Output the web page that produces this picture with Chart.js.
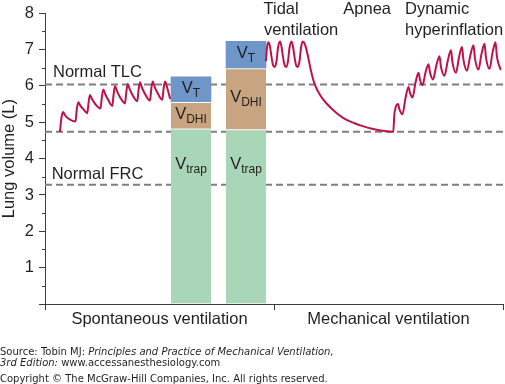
<!DOCTYPE html>
<html lang="en">
<head>
<meta charset="UTF-8">
<title>Lung volume during spontaneous and mechanical ventilation</title>
<script src="https://cdn.jsdelivr.net/npm/chart.js"></script>
<style>
    html, body {
        margin: 0;
        padding: 0;
        background: #fff;
    }
    .wrap {
        width: 505px;
        height: 384px;
        position: relative;
    }
</style>
</head>
<body>
<div class="wrap"><canvas id="lung"></canvas></div>

<script>
// time runs left to right in arbitrary units (0..458), volume in litres
const yTicks = [0, 1, 2, 3, 4, 5, 6, 7, 8];
const refLevels = [6.04, 4.74, 3.28];       // normal TLC, end-expiratory, normal FRC
const barTimes = [146, 201];
const vTrap = [4.82, 4.80];
const vDHI = [0.73, 1.68];
const vTidal = [0.70, 0.75];
const phaseTicks = [0, 229, 458];

// spontaneous breathing (left trace)
const spontTrace = [
    [15, 4.75], [16.3, 5.10], [18, 5.28], [20, 5.20], [23, 5.11],
    [30.5, 5.02], [31.8, 5.36], [33.3, 5.55], [35.3, 5.46], [38.3, 5.36],
    [42.3, 5.25], [43.6, 5.55], [45, 5.75], [47, 5.64], [50, 5.51],
    [55.5, 5.38], [56.8, 5.68], [58.3, 5.90], [60.3, 5.77], [63.3, 5.61],
    [67.3, 5.45], [68.6, 5.76], [70, 6.00], [72, 5.86], [75, 5.69],
    [80, 5.52], [81.3, 5.83], [82.7, 6.05], [84.7, 5.91], [87.7, 5.74],
    [92.3, 5.58], [93.6, 5.90], [95, 6.10], [97, 5.95], [100, 5.78],
    [105, 5.60], [106.3, 5.92], [107.7, 6.12], [109.7, 5.97], [112.7, 5.80],
    [117.3, 5.62], [118.6, 5.93], [120, 6.12], [122, 5.97], [125, 5.66]
];

// mechanical ventilation: tidal breaths, apnea, then dynamic hyperinflation
const mechTrace = [
    [221, 6.70], [222, 7.05], [223.5, 7.20], [225, 7.08], [226.5, 6.80], [228, 6.58], [229.5, 6.52],
    [231.5, 6.68], [233, 7.05], [235, 7.22], [236.5, 7.08], [238, 6.80], [239.5, 6.58], [241, 6.52],
    [243, 6.68], [244.5, 7.05], [246.5, 7.22], [248, 7.08], [249.5, 6.80], [251, 6.58], [252.5, 6.52],
    [254.5, 6.68], [256, 7.05], [257.8, 7.22], [259.8, 7.15],
    [262.3, 6.90], [265.7, 6.45], [269, 6.10], [273, 5.85], [277.3, 5.66], [285.7, 5.40],
    [298, 5.12], [309, 4.98], [317, 4.90], [327, 4.82], [337, 4.77], [348.3, 4.74],
    [349.3, 5.20], [350.8, 5.42], [353, 5.50], [354.5, 5.35], [357.5, 5.22],
    [360.5, 5.67], [363.5, 5.97], [365, 5.81], [367.5, 5.68],
    [370.5, 6.09], [373.5, 6.36], [375, 6.17], [377.5, 6.02],
    [380.5, 6.37], [383.5, 6.60], [385, 6.37], [388, 6.18],
    [391.3, 6.56], [394.5, 6.82], [396, 6.52], [399.5, 6.28],
    [402.8, 6.70], [406, 6.98], [407.5, 6.64], [411, 6.36],
    [414, 6.79], [417, 7.07], [418.5, 6.71], [422, 6.42],
    [425.3, 6.84], [428.5, 7.12], [430, 6.75], [433.5, 6.45],
    [436.5, 6.88], [439.5, 7.16], [441, 6.78], [444.5, 6.47],
    [447.5, 6.91], [450.5, 7.20], [452, 6.79], [455.5, 6.46]
];

const ink = '#231f20';
const axisColor = '#3c3c3c';
const traceColor = '#c0124a';
const sans = 'Liberation Sans, Arial, sans-serif';

const toPts = arr => arr.map(p => ({ x: p[0], y: p[1] }));

let trapTop = vTrap;
let dhiTop = vTrap.map((v, i) => v + vDHI[i]);
let tidalTop = dhiTop.map((v, i) => v + vTidal[i]);

function barSet(lo, hi, color, order, gap) {
    return {
        type: 'bar',
        data: barTimes.map((t, i) => ({ x: t, y: [lo[i], hi[i]] })),
        backgroundColor: color,
        borderColor: '#ffffff',
        borderWidth: { top: gap, bottom: 0, left: 0, right: 0 },
        borderSkipped: false,
        barThickness: 40,
        grouped: false,
        order: order
    };
}

let datasets = [];
refLevels.forEach(v => {
    datasets.push({
        type: 'line',
        data: [{ x: 0, y: v }, { x: 458, y: v }],
        borderColor: '#7f7f7f',
        borderWidth: 2,
        borderDash: [7, 4],
        pointRadius: 0,
        order: 3
    });
});
datasets.push(barSet(vTrap.map(() => 0), trapTop, '#aad6b8', 2, 1));
datasets.push(barSet(trapTop, dhiTop, '#c8a480', 2, 1));
datasets.push(barSet(dhiTop, tidalTop, '#6e96c8', 2, 0));
[spontTrace, mechTrace].forEach(tr => {
    datasets.push({
        type: 'line',
        data: toPts(tr),
        borderColor: traceColor,
        borderWidth: 2,
        pointRadius: 0,
        cubicInterpolationMode: 'monotone',
        borderJoinStyle: 'round',
        borderCapStyle: 'round',
        fill: false,
        order: 1
    });
});

function volLabel(ctx, sub, cx, base) {
    ctx.font = '16.5px ' + sans;
    let wV = ctx.measureText('V').width;
    ctx.font = '12px ' + sans;
    let wS = ctx.measureText(sub).width;
    let x0 = cx - (wV + wS) / 2;
    ctx.textAlign = 'left';
    ctx.textBaseline = 'alphabetic';
    ctx.font = '16.5px ' + sans;
    ctx.fillText('V', x0, base);
    ctx.font = '12px ' + sans;
    ctx.fillText(sub, x0 + wV, base + 4);
}

const textPlugin = {
    id: 'figureText',
    afterDraw(chart) {
        const ctx = chart.ctx;
        const xs = chart.scales.x, ys = chart.scales.y;
        ctx.save();
        ctx.fillStyle = ink;

        // half-litre minor ticks
        ctx.strokeStyle = axisColor;
        ctx.lineWidth = 1;
        for (let i = 0; i < yTicks.length - 1; i++) {
            let py = Math.round(ys.getPixelForValue((yTicks[i] + yTicks[i + 1]) / 2)) + 0.5;
            ctx.beginPath();
            ctx.moveTo(xs.left - 3, py);
            ctx.lineTo(xs.left, py);
            ctx.stroke();
        }

        // segment labels inside the bars
        barTimes.forEach((t, i) => {
            let cx = xs.getPixelForValue(t);
            volLabel(ctx, 'T', cx, ys.getPixelForValue((dhiTop[i] + tidalTop[i]) / 2) + 3);
            volLabel(ctx, 'DHI', cx, ys.getPixelForValue((trapTop[i] + dhiTop[i]) / 2) + 3);
            volLabel(ctx, 'trap', cx, ys.getPixelForValue(3.72));
        });

        ctx.font = '16.5px ' + sans;
        ctx.textAlign = 'left';
        ctx.textBaseline = 'alphabetic';
        ctx.fillText('Normal TLC', xs.getPixelForValue(8), ys.getPixelForValue(refLevels[0]) - 7);
        ctx.fillText('Normal FRC', xs.getPixelForValue(6.7), ys.getPixelForValue(refLevels[2]) - 6);

        let top = ys.getPixelForValue(8);
        ctx.fillText('Tidal', xs.getPixelForValue(218.5), top + 1);
        ctx.fillText('ventilation', xs.getPixelForValue(219), top + 21.5);
        ctx.fillText('Apnea', xs.getPixelForValue(298.3), top + 1);
        ctx.fillText('Dynamic', xs.getPixelForValue(360), top + 1);
        ctx.fillText('hyperinflation', xs.getPixelForValue(360), top + 21.5);

        // phase labels under the axis
        ctx.textAlign = 'center';
        let pb = ys.bottom + 19.5;
        ctx.fillText('Spontaneous ventilation', xs.getPixelForValue((phaseTicks[0] + phaseTicks[1]) / 2), pb);
        ctx.fillText('Mechanical ventilation', xs.getPixelForValue((phaseTicks[1] + phaseTicks[2]) / 2), pb);

        // source lines
        ctx.textAlign = 'left';
        const reg = '10px "DejaVu Sans", Verdana, sans-serif';
        const ita = 'italic ' + reg;
        function runs(parts, y) {
            let x = 0;
            parts.forEach(p => {
                ctx.font = p[1] ? ita : reg;
                ctx.fillText(p[0], x, y);
                x += ctx.measureText(p[0]).width;
            });
        }
        runs([['Source: Tobin MJ: ', false], ['Principles and Practice of Mechanical Ventilation,', true]], 355);
        runs([['3rd Edition:', true], [' www.accessanesthesiology.com', false]], 365.5);
        runs([['Copyright \u00a9 The McGraw-Hill Companies, Inc. All rights reserved.', false]], 381.5);
        ctx.restore();
    }
};

new Chart(document.getElementById('lung'), {
    type: 'line',
    data: { datasets: datasets },
    options: {
        responsive: true,
        maintainAspectRatio: false,
        animation: false,
        layout: { padding: { left: 0, right: 2, top: 9, bottom: 74 } },
        plugins: {
            legend: { display: false },
            tooltip: { enabled: false }
        },
        scales: {
            x: {
                type: 'linear',
                min: 0,
                max: 458,
                offset: false,
                afterBuildTicks: s => { s.ticks = phaseTicks.map(v => ({ value: v })); },
                afterFit: s => { s.height = 6; },
                ticks: { display: false },
                grid: { offset: false, drawOnChartArea: false, tickLength: 6, color: axisColor },
                border: { color: axisColor, width: 1 }
            },
            y: {
                min: 0,
                max: 8,
                afterBuildTicks: s => { s.ticks = yTicks.map(v => ({ value: v })); },
                afterFit: s => { s.width = 45; },
                ticks: {
                    padding: 5,
                    color: ink,
                    font: { family: sans, size: 16.5, lineHeight: 1 },
                    callback: v => (v === 0 ? '' : v)
                },
                grid: { drawOnChartArea: false, tickLength: 6, color: axisColor },
                border: { color: axisColor, width: 1 },
                title: {
                    display: true,
                    text: 'Lung volume (L)',
                    color: ink,
                    font: { family: sans, size: 16.5 },
                    padding: 0
                }
            }
        }
    },
    plugins: [textPlugin]
});
</script>
</body>
</html>
